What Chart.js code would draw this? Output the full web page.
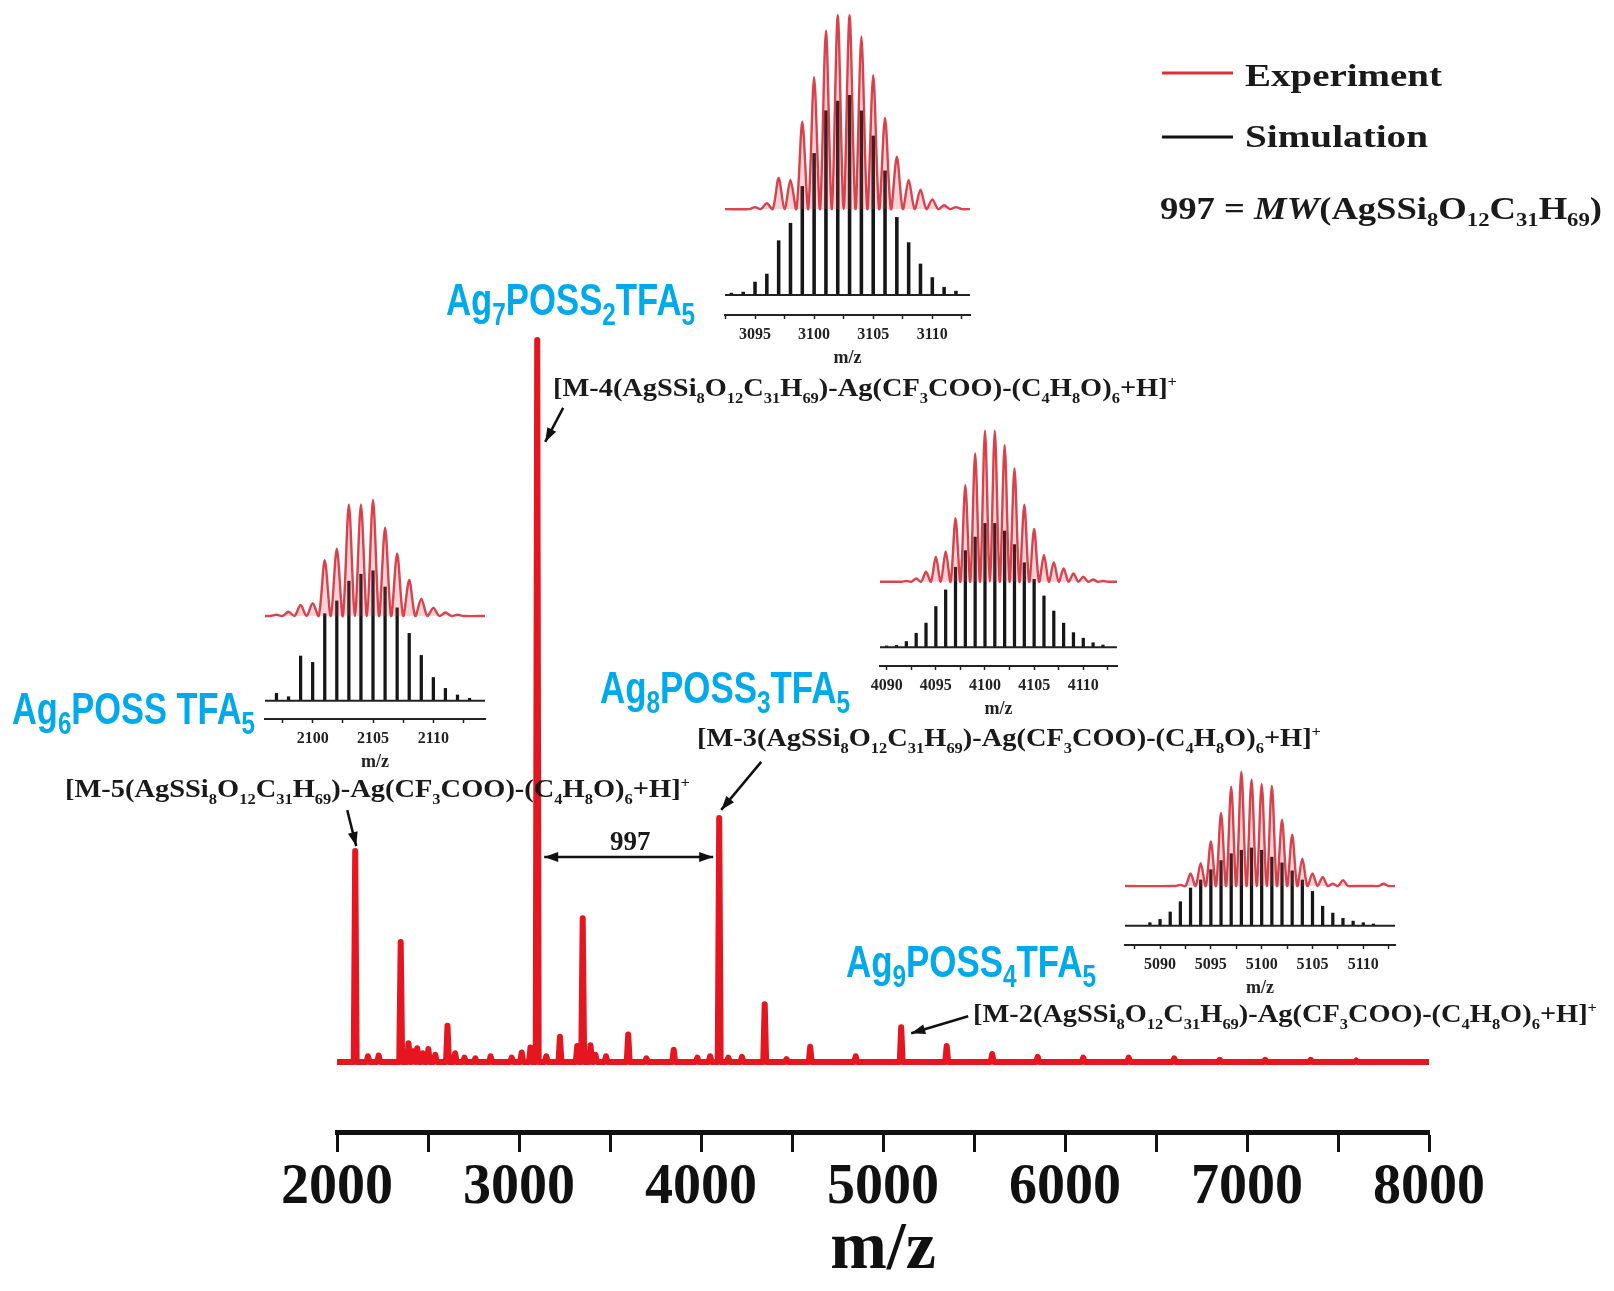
<!DOCTYPE html>
<html>
<head>
<meta charset="utf-8">
<script src="https://cdn.jsdelivr.net/npm/chart.js@4.4.1/dist/chart.umd.min.js"></script>
<style>
  html, body { margin: 0; padding: 0; background: #fff; }
  #wrap { position: relative; width: 1614px; height: 1291px; overflow: hidden; background: #fff; }
  #wrap canvas { position: absolute; }
</style>
</head>
<body>
<div id="wrap">
  <canvas id="mainChart" width="1614" height="1291" style="left:0;top:0"></canvas>
</div>
<script>
// ---- main spectrum (m/z of each peak, relative intensity) ----
const PEAK_MZ  = [2100, 2170, 2229, 2350, 2393, 2420, 2441, 2470, 2502, 2540, 2607, 2649, 2700, 2760, 2844, 2960,
                  3015, 3063, 3100, 3150, 3225, 3320, 3350, 3393, 3420, 3478, 3600, 3700, 3850, 3980, 4050, 4100,
                  4150, 4225, 4350, 4470, 4600, 4850, 5100, 5350, 5600, 5850, 6100, 6350, 6600, 6850, 7100, 7350, 7600];
const PEAK_INT = [29.2, 0.8, 0.9, 16.6, 2.6, 1.5, 1.9, 1.2, 1.8, 1.0, 5.0, 1.2, 0.6, 0.5, 0.8, 0.6,
                  1.3, 2.0, 100, 0.8, 3.5, 2.2, 19.9, 2.3, 1.0, 0.8, 3.8, 0.5, 1.7, 0.6, 0.8, 33.8,
                  0.6, 0.7, 8.0, 0.4, 2.1, 0.8, 4.8, 2.2, 1.1, 0.7, 0.6, 0.6, 0.5, 0.3, 0.3, 0.3, 0.2];
const MAIN_TICKS = [2000, 2500, 3000, 3500, 4000, 4500, 5000, 5500, 6000, 6500, 7000, 7500, 8000];

// ---- isotope insets: experiment (red) and simulation (black sticks) ----
const EXP_MZ_2100 = [2097, 2098, 2099, 2100, 2101, 2102, 2103, 2104, 2105, 2106, 2107, 2108, 2109, 2110, 2111, 2112];
const EXP_2100    = [1, 3.7, 9.5, 11, 48, 58, 96, 96, 100, 76, 54, 31, 15, 7, 3, 1];
const SIM_MZ_2100 = [2097, 2098, 2099, 2100, 2101, 2102, 2103, 2104, 2105, 2106, 2107, 2108, 2109, 2110, 2111, 2112, 2113];
const SIM_2100    = [6.3, 3.4, 38.5, 33, 75, 86, 103, 109, 112, 98, 80, 58, 39, 20, 10.6, 4.9, 2];
const TICKS_2100  = [2097.5, 2100, 2102.5, 2105, 2107.5, 2110, 2112.5];

const EXP_MZ_3100 = [3095, 3096, 3097, 3098, 3099, 3100, 3101, 3102, 3103, 3104, 3105, 3106, 3107, 3108, 3109, 3110, 3111, 3112];
const EXP_3100    = [1, 3, 16, 15, 45, 68, 92, 100, 100, 89, 69, 47, 27, 15, 10, 5, 2, 1];
const SIM_MZ_3100 = [3093, 3094, 3095, 3096, 3097, 3098, 3099, 3100, 3101, 3102, 3103, 3104, 3105, 3106, 3107, 3108, 3109, 3110, 3111, 3112];
const SIM_3100    = [1, 1.5, 6.7, 10.8, 28, 37, 56, 73, 95, 100, 103, 95, 82, 64, 40, 27, 16, 9, 4, 2];
const TICKS_3100  = [3092.5, 3095, 3097.5, 3100, 3102.5, 3105, 3107.5, 3110, 3112.5];

const EXP_MZ_4100 = [4092, 4093, 4094, 4095, 4096, 4097, 4098, 4099, 4100, 4101, 4102, 4103, 4104, 4105, 4106, 4107, 4108, 4109, 4110, 4111, 4112];
const EXP_4100    = [0.5, 2.2, 6.6, 16.6, 20, 42, 64, 85, 100, 100, 90.5, 75, 51, 35, 17.7, 13, 8.8, 5.5, 3.3, 1.5, 0.5];
const SIM_MZ_4100 = [4090, 4091, 4092, 4093, 4094, 4095, 4096, 4097, 4098, 4099, 4100, 4101, 4102, 4103, 4104, 4105, 4106, 4107, 4108, 4109, 4110, 4111, 4112];
const SIM_4100    = [0.9, 1.3, 3.8, 9.3, 16, 27, 38, 53, 64, 73, 82, 82, 77, 68, 56, 45, 34, 24, 16, 9.7, 6, 3, 1.5];
const TICKS_4100  = [4090, 4092.5, 4095, 4097.5, 4100, 4102.5, 4105, 4107.5, 4110, 4112.5];

const EXP_MZ_5100 = [5092, 5093, 5094, 5095, 5096, 5097, 5098, 5099, 5100, 5101, 5102, 5103, 5104, 5105, 5106, 5107, 5108, 5109, 5110, 5111, 5112];
const EXP_5100    = [1, 11, 20, 39, 64, 87, 100, 93, 89, 87.5, 58, 45, 24, 11, 8, 2, 5, 0, 0, 0, 2];
const SIM_MZ_5100 = [5089, 5090, 5091, 5092, 5093, 5094, 5095, 5096, 5097, 5098, 5099, 5100, 5101, 5102, 5103, 5104, 5105, 5106, 5107, 5108, 5109, 5110, 5111];
const SIM_5100    = [2.6, 5.5, 12, 21, 33, 40, 49, 57, 63, 66, 68, 66, 60, 55, 48, 40, 30, 17, 11, 6.4, 4, 2.6, 1.5];
const TICKS_5100  = [5087.5, 5090, 5092.5, 5095, 5097.5, 5100, 5102.5, 5105, 5107.5, 5110, 5112.5];

const SERIF = '"Liberation Serif", "Times New Roman", serif';
const SANS  = '"Liberation Sans", Arial, sans-serif';
const MAIN_RED  = '#e5161f';
const INSET_RED = 'rgba(212, 36, 48, 0.85)';
const INSET_RED_FILL = 'rgba(214, 60, 72, 0.22)';
const LABEL_BLUE = '#00a9eb';

// placement of each inset on the page (chart area box in px)
const INSETS = [
    { simMz: SIM_MZ_2100, sim: SIM_2100, expMz: EXP_MZ_2100, exp: EXP_2100, ticks: TICKS_2100,
      left: 265, right: 485, top: 490, axis: 719, xMin: 2096.05, xMax: 2114.28, yMin: -15.8, yMax: 181.6, redOffset: 73, bar: 2.6 },
    { simMz: SIM_MZ_3100, sim: SIM_3100, expMz: EXP_MZ_3100, exp: EXP_3100, ticks: TICKS_3100,
      left: 725, right: 970, top: 5, axis: 315, xMin: 3092.46, xMax: 3113.19, yMin: -10.3, yMax: 149.5, redOffset: 44.3, bar: 2.9 },
    { simMz: SIM_MZ_4100, sim: SIM_4100, expMz: EXP_MZ_4100, exp: EXP_4100, ticks: TICKS_4100,
      left: 880, right: 1117, top: 425, axis: 666, xMin: 4089.32, xMax: 4113.43, yMin: -12.4, yMax: 147.2, redOffset: 43.4, bar: 2.6 },
    { simMz: SIM_MZ_5100, sim: SIM_5100, expMz: EXP_MZ_5100, exp: EXP_5100, ticks: TICKS_5100,
      left: 1125, right: 1395, top: 765, axis: 945, xMin: 5086.55, xMax: 5113.12, yMin: -16.9, yMax: 140.6, redOffset: 34.7, bar: 2.6 }
];

Chart.defaults.devicePixelRatio = 1;

// ---- rich text helper: _{sub} ^{sup} ~italic~ ----
function parseRich(src) {
    const out = [];
    let buf = '', italic = false, i = 0;
    const flush = () => { if (buf) out.push({ t: buf, mode: 'n', italic: italic }); buf = ''; };
    while (i < src.length) {
        const c = src[i];
        if ((c === '_' || c === '^') && src[i + 1] === '{') {
            flush();
            const end = src.indexOf('}', i);
            out.push({ t: src.slice(i + 2, end), mode: c === '_' ? 'sub' : 'sup', italic: italic });
            i = end + 1;
        } else if (c === '~') {
            flush();
            italic = !italic;
            i++;
        } else {
            buf += c;
            i++;
        }
    }
    flush();
    return out;
}

function drawRich(ctx, src, x, capCenter, o) {
    const parts = parseRich(src);
    const fontOf = p => {
        const size = p.mode === 'n' ? o.size : o.size * (o.subScale || 0.62);
        return (p.italic ? 'italic ' : '') + (o.weight || 'bold') + ' ' + size + 'px ' + o.family;
    };
    let total = 0;
    parts.forEach(p => {
        ctx.font = fontOf(p);
        p.w = ctx.measureText(p.t).width;
        total += p.w;
    });
    const sx = o.width ? o.width / total : 1;
    const baseline = capCenter + o.size * (o.cap || 0.33);
    ctx.save();
    ctx.translate(o.align === 'center' ? x - (total * sx) / 2 : x, baseline);
    ctx.scale(sx, 1);
    ctx.fillStyle = o.color || '#111';
    ctx.textBaseline = 'alphabetic';
    ctx.textAlign = 'left';
    let cx = 0;
    parts.forEach(p => {
        ctx.font = fontOf(p);
        let dy = 0;
        if (p.mode === 'sub') dy = o.size * (o.subDrop || 0.24);
        if (p.mode === 'sup') dy = -o.size * 0.42;
        ctx.fillText(p.t, cx, dy);
        cx += p.w;
    });
    ctx.restore();
}

function drawArrow(ctx, x1, y1, x2, y2, both) {
    const head = (tx, ty, fx, fy) => {
        const a = Math.atan2(ty - fy, tx - fx);
        ctx.beginPath();
        ctx.moveTo(tx, ty);
        ctx.lineTo(tx - 14 * Math.cos(a) + 5 * Math.sin(a), ty - 14 * Math.sin(a) - 5 * Math.cos(a));
        ctx.lineTo(tx - 14 * Math.cos(a) - 5 * Math.sin(a), ty - 14 * Math.sin(a) + 5 * Math.cos(a));
        ctx.closePath();
        ctx.fill();
    };
    ctx.save();
    ctx.strokeStyle = '#111';
    ctx.fillStyle = '#111';
    ctx.lineWidth = 2.5;
    ctx.beginPath();
    ctx.moveTo(x1, y1);
    ctx.lineTo(x2, y2);
    ctx.stroke();
    head(x2, y2, x1, y1);
    if (both) head(x1, y1, x2, y2);
    ctx.restore();
}

const FORMULA = '(AgSSi_{8}O_{12}C_{31}H_{69})-Ag(CF_{3}COO)-(C_{4}H_{8}O)_{6}+H]^{+}';

const annotationPlugin = {
    id: 'annotations',
    afterDraw(chart) {
        const ctx = chart.ctx;
        const xs = chart.scales.x, ys = chart.scales.y;
        const peak = m => ({ x: xs.getPixelForValue(m), y: ys.getPixelForValue(PEAK_INT[PEAK_MZ.indexOf(m)]) });

        // legend
        ctx.save();
        ctx.lineWidth = 3;
        ctx.strokeStyle = '#d9303c';
        ctx.beginPath(); ctx.moveTo(1162, 73); ctx.lineTo(1233, 73); ctx.stroke();
        ctx.strokeStyle = '#111';
        ctx.beginPath(); ctx.moveTo(1162, 137); ctx.lineTo(1233, 137); ctx.stroke();
        ctx.restore();
        const legendFont = { family: SERIF, size: 32, color: '#1a1a1a' };
        drawRich(ctx, 'Experiment', 1245, 75, Object.assign({ width: 197 }, legendFont));
        drawRich(ctx, 'Simulation', 1245, 136, Object.assign({ width: 183 }, legendFont));
        drawRich(ctx, '997 = ~MW~(AgSSi_{8}O_{12}C_{31}H_{69})', 1160, 208, Object.assign({ width: 442 }, legendFont));

        // blue species labels
        const blue = { family: SANS, size: 44, color: LABEL_BLUE, cap: 0.36, subScale: 0.7, subDrop: 0.23 };
        drawRich(ctx, 'Ag_{7}POSS_{2}TFA_{5}', 446, 299, Object.assign({ width: 249 }, blue));
        drawRich(ctx, 'Ag_{6}POSS TFA_{5}', 12, 708, Object.assign({ width: 243 }, blue));
        drawRich(ctx, 'Ag_{8}POSS_{3}TFA_{5}', 600, 687, Object.assign({ width: 250 }, blue));
        drawRich(ctx, 'Ag_{9}POSS_{4}TFA_{5}', 846, 961, Object.assign({ width: 250 }, blue));

        // assignment formulas
        const f = { family: SERIF, size: 25, color: '#1a1a1a', subScale: 0.58, subDrop: 0.26 };
        drawRich(ctx, '[M-4' + FORMULA, 553, 388, Object.assign({ width: 624 }, f));
        drawRich(ctx, '[M-5' + FORMULA, 65, 789, Object.assign({ width: 625 }, f));
        drawRich(ctx, '[M-3' + FORMULA, 697, 738, Object.assign({ width: 624 }, f));
        drawRich(ctx, '[M-2' + FORMULA, 973, 1014, Object.assign({ width: 624 }, f));

        // arrows pointing at the peaks
        let p = peak(3100);
        drawArrow(ctx, p.x + 26, p.y + 68, p.x + 8, p.y + 102);
        p = peak(2100);
        drawArrow(ctx, p.x - 8, p.y - 41, p.x + 1, p.y - 5);
        p = peak(4100);
        drawArrow(ctx, p.x + 42, p.y - 56, p.x + 2, p.y - 8);
        p = peak(5100);
        drawArrow(ctx, p.x + 67, p.y - 11, p.x + 10, p.y + 6);

        // 997 spacing
        const a = peak(3100), b = peak(4100);
        drawArrow(ctx, a.x + 7, 857, b.x - 6, 857, true);
        drawRich(ctx, '997', (a.x + b.x) / 2 + 2, 841, { family: SERIF, size: 27, color: '#1a1a1a', align: 'center' });
    }
};

// ---- main spectrum ----
const spectrum = [{ x: 2000, y: 0 }];
PEAK_MZ.forEach((m, i) => {
    spectrum.push({ x: m - 8, y: 0 }, { x: m, y: PEAK_INT[i] }, { x: m + 8, y: 0 });
});
spectrum.push({ x: 8000, y: 0 });

new Chart(document.getElementById('mainChart'), {
    type: 'line',
    data: {
        datasets: [{
            data: spectrum,
            borderColor: MAIN_RED,
            borderWidth: 6,
            pointRadius: 0,
            tension: 0,
            clip: false,
            borderJoinStyle: 'round'
        }]
    },
    options: {
        responsive: false,
        animation: false,
        events: [],
        layout: { padding: { left: 337, right: 185, top: 20, bottom: 0 } },
        plugins: { legend: { display: false }, tooltip: { enabled: false } },
        scales: {
            x: {
                type: 'linear',
                min: 2000,
                max: 8000,
                afterBuildTicks: s => { s.ticks = MAIN_TICKS.map(v => ({ value: v })); },
                afterFit: s => { s.height = 159; },
                ticks: {
                    callback: v => (v % 1000 === 0 ? String(v) : ''),
                    font: { family: SERIF, size: 56, weight: 'bold' },
                    color: '#111',
                    padding: 3,
                    autoSkip: false,
                    maxRotation: 0,
                    minRotation: 0
                },
                grid: { drawOnChartArea: false, drawTicks: true, tickLength: 20, tickWidth: 3, tickColor: '#111' },
                border: { display: true, width: 5, color: '#111' },
                title: { display: true, text: 'm/z', font: { family: SERIF, size: 68, weight: 'bold' }, color: '#111', padding: 0 }
            },
            y: { display: false, min: -9.7, max: 144.3 }
        }
    },
    plugins: [annotationPlugin]
});

// ---- insets ----
const PAD = 30, AXIS_H = 54;
const wrap = document.getElementById('wrap');

INSETS.forEach(ins => {
    const canvas = document.createElement('canvas');
    const w = ins.right - ins.left + 2 * PAD;
    const h = ins.axis - ins.top + AXIS_H;
    canvas.width = w;
    canvas.height = h;
    canvas.style.left = (ins.left - PAD) + 'px';
    canvas.style.top = ins.top + 'px';
    wrap.appendChild(canvas);

    const red = [{ x: ins.xMin, y: ins.redOffset }];
    ins.expMz.forEach((m, i) => {
        red.push({ x: m - 0.5, y: ins.redOffset }, { x: m, y: ins.redOffset + ins.exp[i] });
    });
    red.push({ x: ins.expMz[ins.expMz.length - 1] + 0.5, y: ins.redOffset }, { x: ins.xMax, y: ins.redOffset });

    const sticks = ins.simMz.map((m, i) => ({ x: m, y: ins.sim[i] }));

    new Chart(canvas, {
        type: 'bar',
        data: {
            datasets: [
                {
                    type: 'line', data: red, borderColor: INSET_RED, borderWidth: 2.4,
                    fill: { target: { value: ins.redOffset } }, backgroundColor: INSET_RED_FILL,
                    pointRadius: 0, tension: 0.3, clip: false, order: 0
                },
                {
                    type: 'line', data: [{ x: ins.xMin, y: 0 }, { x: ins.xMax, y: 0 }], borderColor: '#222',
                    borderWidth: 2, pointRadius: 0, clip: false, order: 1
                },
                {
                    type: 'bar', data: sticks, backgroundColor: '#161616', barThickness: ins.bar, order: 2
                }
            ]
        },
        options: {
            responsive: false,
            animation: false,
            events: [],
            layout: { padding: { left: PAD, right: PAD, top: 0, bottom: 0 } },
            plugins: { legend: { display: false }, tooltip: { enabled: false }, filler: { propagate: false } },
            scales: {
                x: {
                    type: 'linear',
                    min: ins.xMin,
                    max: ins.xMax,
                    offset: false,
                    afterBuildTicks: s => { s.ticks = ins.ticks.map(v => ({ value: v })); },
                    afterFit: s => { s.height = AXIS_H; },
                    ticks: {
                        callback: v => (v % 5 === 0 ? String(v) : ''),
                        font: { family: SERIF, size: 16, weight: 'bold' },
                        color: '#222',
                        padding: 6,
                        autoSkip: false,
                        maxRotation: 0,
                        minRotation: 0
                    },
                    grid: { offset: false, drawOnChartArea: false, drawTicks: true, tickLength: 4, tickWidth: 1.5, tickColor: '#222' },
                    border: { display: true, width: 2, color: '#222' },
                    title: { display: true, text: 'm/z', font: { family: SERIF, size: 18, weight: 'bold' }, color: '#222', padding: 0 }
                },
                y: { display: false, min: ins.yMin, max: ins.yMax }
            }
        }
    });
});
</script>
</body>
</html>
